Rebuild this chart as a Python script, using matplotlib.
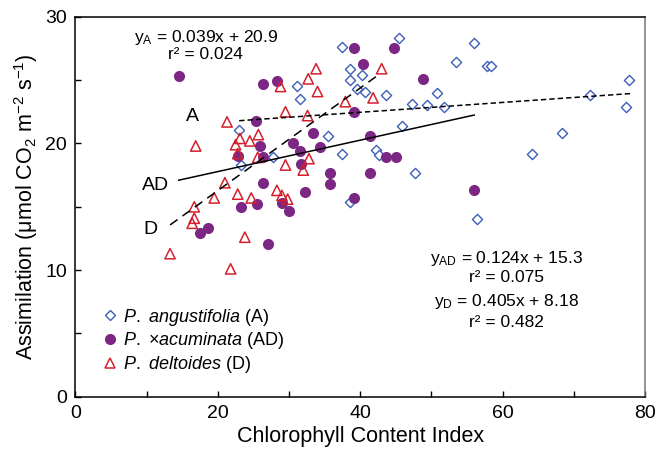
import matplotlib
matplotlib.use("Agg")
import matplotlib.pyplot as plt
from matplotlib.ticker import MultipleLocator
from matplotlib.lines import Line2D

plt.rcParams['font.family'] = ['Liberation Sans', 'DejaVu Sans']
plt.rcParams['mathtext.fontset'] = 'custom'
plt.rcParams['mathtext.rm'] = 'Liberation Sans'
plt.rcParams['mathtext.it'] = 'Liberation Sans:italic'

# P. angustifolia (A): chlorophyll content index, assimilation
a_cci = [37.4, 45.4, 55.9, 53.4, 57.8, 58.4, 38.6, 40.2, 38.6, 39.5, 40.6, 43.6,
         50.8, 47.3, 49.4, 51.7, 72.2, 77.7, 77.3, 45.8, 35.5, 37.4, 42.2, 42.7,
         47.7, 64.1, 68.3, 38.6, 56.4, 31.1, 31.5, 23.0, 23.3, 27.8]
a_asm = [27.6, 28.3, 27.9, 26.4, 26.1, 26.1, 25.9, 25.4, 25.0, 24.3, 24.1, 23.8,
         24.0, 23.1, 23.0, 22.9, 23.8, 25.0, 22.9, 21.4, 20.6, 19.2, 19.5, 19.1,
         17.7, 19.2, 20.8, 15.4, 14.0, 24.5, 23.5, 21.1, 18.3, 18.9]

# P. x acuminata (AD)
ad_cci = [14.5, 26.3, 28.3, 25.4, 25.9, 30.5, 33.3, 31.6, 26.3, 22.9, 31.7, 34.3,
          39.1, 44.8, 40.4, 48.8, 39.1, 41.3, 43.6, 45.0, 41.3, 35.7, 35.7, 55.9,
          39.1, 26.4, 32.3, 23.3, 25.5, 29.0, 30.0, 18.6, 17.5, 27.1]
ad_asm = [25.3, 24.7, 24.9, 21.8, 19.8, 20.0, 20.8, 19.4, 18.9, 19.0, 18.4, 19.7,
          27.5, 27.5, 26.3, 25.1, 22.5, 20.6, 18.9, 18.9, 17.7, 17.7, 16.8, 16.3,
          15.7, 16.9, 16.2, 15.0, 15.2, 15.3, 14.7, 13.3, 12.9, 12.1]

# P. deltoides (D)
d_cci = [33.8, 32.7, 28.8, 34.0, 29.5, 32.6, 21.3, 23.1, 24.5, 25.7, 22.5, 16.9,
         22.8, 25.6, 32.8, 43.0, 37.9, 41.8, 29.5, 32.0, 21.0, 19.5, 22.8, 24.7,
         28.3, 29.0, 29.8, 16.7, 16.7, 16.4, 23.8, 13.3, 21.8]
d_asm = [25.9, 25.1, 24.5, 24.1, 22.5, 22.2, 21.7, 20.4, 20.2, 20.7, 19.9, 19.8,
         19.2, 18.9, 18.8, 25.9, 23.3, 23.6, 18.3, 17.9, 16.9, 15.7, 16.0, 15.7,
         16.3, 15.9, 15.6, 15.0, 14.1, 13.7, 12.6, 11.3, 10.1]

# fitted lines: slope, intercept, x range
fit_a = (0.039, 20.9, 23.0, 78.0)
fit_ad = (0.124, 15.3, 14.5, 56.0)
fit_d = (0.405, 8.18, 13.3, 42.6)

blue = '#3d5fb8'
purple = '#7d2785'
red = '#d4202c'

fig = plt.figure(figsize=(6.55, 4.54), dpi=100)
ax = fig.add_axes([0.115, 0.126, 0.870, 0.837])

ax.scatter(a_cci, a_asm, marker='D', s=27, facecolors='white', edgecolors=blue,
           linewidths=1.0, zorder=3)
ax.scatter(ad_cci, ad_asm, marker='o', s=64, color=purple, linewidths=0, zorder=3)
ax.scatter(d_cci, d_asm, marker='^', s=55, facecolors='none', edgecolors=red,
           linewidths=1.1, zorder=4)


def fit_line(fit, **kw):
    m, b, x0, x1 = fit
    ax.plot([x0, x1], [m * x0 + b, m * x1 + b], color='black', lw=1.1, zorder=5, **kw)


fit_line(fit_a, ls=(0, (3.5, 2)))
fit_line(fit_ad, ls='-')
fit_line(fit_d, ls=(0, (6, 4)))

ax.text(16.5, 22.1, 'A', fontsize=14, ha='center', va='center')
ax.text(11.2, 16.7, 'AD', fontsize=14, ha='center', va='center')
ax.text(10.5, 13.2, 'D', fontsize=14, ha='center', va='center')

eq_kw = dict(fontsize=12.5, ha='center', va='center')
ax.text(18.3, 28.4, r'y$_{\rm A}$ = 0.039x + 20.9', **eq_kw)
ax.text(18.3, 27.0, 'r² = 0.024', **eq_kw)
ax.text(60.5, 10.9, r'y$_{\rm AD}$ = 0.124x + 15.3', **eq_kw)
ax.text(60.5, 9.4, 'r² = 0.075', **eq_kw)
ax.text(60.5, 7.5, r'y$_{\rm D}$ = 0.405x + 8.18', **eq_kw)
ax.text(60.5, 5.9, 'r² = 0.482', **eq_kw)

handles = [
    Line2D([], [], ls='none', marker='D', ms=5.2, mfc='white', mec=blue, mew=1.0),
    Line2D([], [], ls='none', marker='o', ms=8, mfc=purple, mec=purple, mew=0),
    Line2D([], [], ls='none', marker='^', ms=7.5, mfc='none', mec=red, mew=1.1),
]
labels = [r'$\it{P.\ angustifolia}$ (A)',
          r'$\it{P.}$ ×$\it{acuminata}$ (AD)',
          r'$\it{P.\ deltoides}$ (D)']
ax.legend(handles, labels, loc='lower left', bbox_to_anchor=(0.01, 0.01),
          frameon=False, fontsize=13, handletextpad=0.1, labelspacing=0.15,
          handlelength=1.2, borderaxespad=0.6)

ax.set_xlim(0, 80)
ax.set_ylim(0, 30)
ax.xaxis.set_major_locator(MultipleLocator(20))
ax.xaxis.set_minor_locator(MultipleLocator(10))
ax.yaxis.set_major_locator(MultipleLocator(10))
ax.yaxis.set_minor_locator(MultipleLocator(5))
ax.tick_params(which='both', direction='in', length=4, width=1, labelsize=14, pad=6)
for s in ax.spines.values():
    s.set_linewidth(1.1)
ax.spines['right'].set_color('#777777')

ax.set_xlabel('Chlorophyll Content Index', fontsize=15.5, labelpad=3)
ax.set_ylabel(r'Assimilation (μmol CO$_2$ m$^{-2}$ s$^{-1}$)', fontsize=15.5, labelpad=4)

fig.savefig('out.png', dpi=100)
